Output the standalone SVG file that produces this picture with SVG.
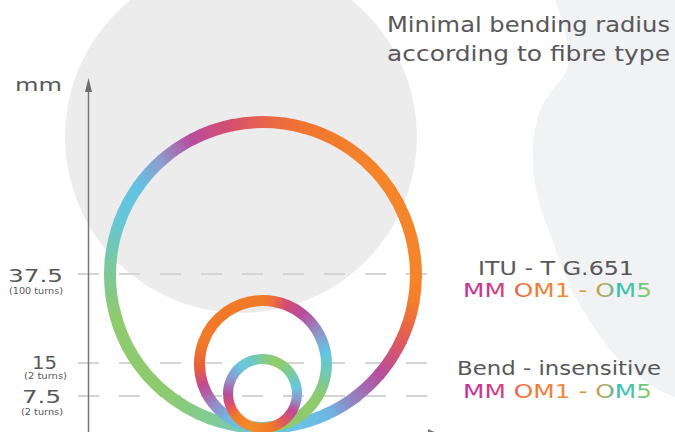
<svg xmlns="http://www.w3.org/2000/svg" width="675" height="432" viewBox="0 0 675 432">
<style>
.t{font-family:"DejaVu Sans","Liberation Sans",sans-serif;fill:#58585a}
.grid{stroke:#d4d4d4;stroke-width:2;stroke-dasharray:21 20;fill:none}
.rb{fill:none;stroke-width:12}
.rm{fill:none;stroke-width:11}
.rs{fill:none;stroke-width:10}
</style>
<defs>
<linearGradient id="tg" gradientUnits="userSpaceOnUse" x1="463" y1="0" x2="652" y2="0">
<stop offset="0" stop-color="#c2309c"/><stop offset="0.2" stop-color="#d0407a"/><stop offset="0.33" stop-color="#f0783a"/><stop offset="0.57" stop-color="#f08a3a"/><stop offset="0.67" stop-color="#d0a040"/><stop offset="0.75" stop-color="#b0a860"/><stop offset="0.83" stop-color="#30c0b4"/><stop offset="0.94" stop-color="#60c690"/><stop offset="1" stop-color="#a8cc3c"/>
</linearGradient>
<linearGradient id="b1" gradientUnits="userSpaceOnUse" x1="263" y1="122" x2="302.6" y2="127.2"><stop offset="0" stop-color="#e8644a"/><stop offset="1" stop-color="#f07430"/></linearGradient>
<linearGradient id="b2" gradientUnits="userSpaceOnUse" x1="302.6" y1="127.2" x2="371.2" y2="166.8"><stop offset="0" stop-color="#f07430"/><stop offset="1" stop-color="#f5842a"/></linearGradient>
<linearGradient id="b4" gradientUnits="userSpaceOnUse" x1="416" y1="275" x2="413.7" y2="301.6"><stop offset="0" stop-color="#f5852a"/><stop offset="1" stop-color="#f47e2a"/></linearGradient>
<linearGradient id="b5" gradientUnits="userSpaceOnUse" x1="413.7" y1="301.6" x2="401.7" y2="339.7"><stop offset="0" stop-color="#f47e2a"/><stop offset="1" stop-color="#e05a5a"/></linearGradient>
<linearGradient id="b6" gradientUnits="userSpaceOnUse" x1="401.7" y1="339.7" x2="380.2" y2="373.3"><stop offset="0" stop-color="#e05a5a"/><stop offset="1" stop-color="#b84d9c"/></linearGradient>
<linearGradient id="b7" gradientUnits="userSpaceOnUse" x1="380.2" y1="373.3" x2="357.2" y2="395.6"><stop offset="0" stop-color="#b84d9c"/><stop offset="1" stop-color="#9a78bc"/></linearGradient>
<linearGradient id="b8" gradientUnits="userSpaceOnUse" x1="357.2" y1="395.6" x2="327.7" y2="413.7"><stop offset="0" stop-color="#9a78bc"/><stop offset="1" stop-color="#6cb8e4"/></linearGradient>
<linearGradient id="b9" gradientUnits="userSpaceOnUse" x1="327.7" y1="413.7" x2="289.6" y2="425.7"><stop offset="0" stop-color="#6cb8e4"/><stop offset="1" stop-color="#6cc4e4"/></linearGradient>
<linearGradient id="b10" gradientUnits="userSpaceOnUse" x1="289.6" y1="425.7" x2="249.7" y2="427.4"><stop offset="0" stop-color="#6cc4e4"/><stop offset="1" stop-color="#70c8c8"/></linearGradient>
<linearGradient id="b11" gradientUnits="userSpaceOnUse" x1="249.7" y1="427.4" x2="210.7" y2="418.8"><stop offset="0" stop-color="#70c8c8"/><stop offset="1" stop-color="#80cc94"/></linearGradient>
<linearGradient id="b12" gradientUnits="userSpaceOnUse" x1="210.7" y1="418.8" x2="164.7" y2="392.2"><stop offset="0" stop-color="#80cc94"/><stop offset="1" stop-color="#8ecb6e"/></linearGradient>
<linearGradient id="b14" gradientUnits="userSpaceOnUse" x1="115.2" y1="314.6" x2="110.6" y2="261.7"><stop offset="0" stop-color="#8ecb70"/><stop offset="1" stop-color="#78c8a4"/></linearGradient>
<linearGradient id="b15" gradientUnits="userSpaceOnUse" x1="110.6" y1="261.7" x2="119.2" y2="222.7"><stop offset="0" stop-color="#78c8a4"/><stop offset="1" stop-color="#66c6d4"/></linearGradient>
<linearGradient id="b16" gradientUnits="userSpaceOnUse" x1="119.2" y1="222.7" x2="137.7" y2="187.2"><stop offset="0" stop-color="#66c6d4"/><stop offset="1" stop-color="#62c4e4"/></linearGradient>
<linearGradient id="b17" gradientUnits="userSpaceOnUse" x1="137.7" y1="187.2" x2="160.6" y2="161.3"><stop offset="0" stop-color="#62c4e4"/><stop offset="1" stop-color="#8c9ccc"/></linearGradient>
<linearGradient id="b18" gradientUnits="userSpaceOnUse" x1="160.6" y1="161.3" x2="191.2" y2="139.9"><stop offset="0" stop-color="#8c9ccc"/><stop offset="1" stop-color="#b84d9c"/></linearGradient>
<linearGradient id="b19" gradientUnits="userSpaceOnUse" x1="191.2" y1="139.9" x2="231.2" y2="125.3"><stop offset="0" stop-color="#b84d9c"/><stop offset="1" stop-color="#d4506e"/></linearGradient>
<linearGradient id="b20" gradientUnits="userSpaceOnUse" x1="231.2" y1="125.3" x2="263" y2="122"><stop offset="0" stop-color="#d4506e"/><stop offset="1" stop-color="#e8644a"/></linearGradient>

<linearGradient id="m1" gradientUnits="userSpaceOnUse" x1="263" y1="300.5" x2="274" y2="301.5"><stop offset="0" stop-color="#f17a2a"/><stop offset="1" stop-color="#ec6a40"/></linearGradient>
<linearGradient id="m2" gradientUnits="userSpaceOnUse" x1="274" y1="301.5" x2="286.8" y2="305.1"><stop offset="0" stop-color="#ec6a40"/><stop offset="1" stop-color="#d04c78"/></linearGradient>
<linearGradient id="m3" gradientUnits="userSpaceOnUse" x1="286.8" y1="305.1" x2="302.1" y2="314"><stop offset="0" stop-color="#d04c78"/><stop offset="1" stop-color="#b84d9c"/></linearGradient>
<linearGradient id="m4" gradientUnits="userSpaceOnUse" x1="302.1" y1="314" x2="319.1" y2="334.2"><stop offset="0" stop-color="#b84d9c"/><stop offset="1" stop-color="#8c98cc"/></linearGradient>
<linearGradient id="m5" gradientUnits="userSpaceOnUse" x1="319.1" y1="334.2" x2="325.5" y2="353"><stop offset="0" stop-color="#8c98cc"/><stop offset="1" stop-color="#62c6e4"/></linearGradient>
<linearGradient id="m6" gradientUnits="userSpaceOnUse" x1="325.5" y1="353" x2="325.9" y2="372.8"><stop offset="0" stop-color="#62c6e4"/><stop offset="1" stop-color="#72c8b0"/></linearGradient>
<linearGradient id="m7" gradientUnits="userSpaceOnUse" x1="325.9" y1="372.8" x2="318" y2="395.75"><stop offset="0" stop-color="#72c8b0"/><stop offset="1" stop-color="#8ecb6e"/></linearGradient>
<linearGradient id="m9" gradientUnits="userSpaceOnUse" x1="284.7" y1="423.7" x2="252" y2="426.5"><stop offset="0" stop-color="#8ecb6e"/><stop offset="1" stop-color="#6cc4dc"/></linearGradient>
<linearGradient id="m10" gradientUnits="userSpaceOnUse" x1="252" y1="426.5" x2="226.6" y2="416"><stop offset="0" stop-color="#6cc4dc"/><stop offset="1" stop-color="#74b4e0"/></linearGradient>
<linearGradient id="m11" gradientUnits="userSpaceOnUse" x1="226.6" y1="416" x2="213" y2="403.1"><stop offset="0" stop-color="#74b4e0"/><stop offset="1" stop-color="#9a84c4"/></linearGradient>
<linearGradient id="m12" gradientUnits="userSpaceOnUse" x1="213" y1="403.1" x2="203.3" y2="385.7"><stop offset="0" stop-color="#9a84c4"/><stop offset="1" stop-color="#c04a90"/></linearGradient>
<linearGradient id="m13" gradientUnits="userSpaceOnUse" x1="203.3" y1="385.7" x2="199.5" y2="366.2"><stop offset="0" stop-color="#c04a90"/><stop offset="1" stop-color="#ec6038"/></linearGradient>
<linearGradient id="m14" gradientUnits="userSpaceOnUse" x1="199.5" y1="366.2" x2="203.3" y2="342.3"><stop offset="0" stop-color="#ec6038"/><stop offset="1" stop-color="#f07a28"/></linearGradient>

<linearGradient id="s1" gradientUnits="userSpaceOnUse" x1="262.5" y1="359" x2="277.1" y2="362.2"><stop offset="0" stop-color="#80cc90"/><stop offset="1" stop-color="#92cc64"/></linearGradient>
<linearGradient id="s2" gradientUnits="userSpaceOnUse" x1="277.1" y1="362.2" x2="290.8" y2="373.7"><stop offset="0" stop-color="#92cc64"/><stop offset="1" stop-color="#7ccaa0"/></linearGradient>
<linearGradient id="s3" gradientUnits="userSpaceOnUse" x1="290.8" y1="373.7" x2="296.5" y2="387.5"><stop offset="0" stop-color="#7ccaa0"/><stop offset="1" stop-color="#66c6e0"/></linearGradient>
<linearGradient id="s4" gradientUnits="userSpaceOnUse" x1="296.5" y1="387.5" x2="296.5" y2="399.5"><stop offset="0" stop-color="#66c6e0"/><stop offset="1" stop-color="#8c98cc"/></linearGradient>
<linearGradient id="s5" gradientUnits="userSpaceOnUse" x1="296.5" y1="399.5" x2="292.4" y2="410.75"><stop offset="0" stop-color="#8c98cc"/><stop offset="1" stop-color="#c04a90"/></linearGradient>
<linearGradient id="s6" gradientUnits="userSpaceOnUse" x1="292.4" y1="410.75" x2="282.3" y2="421.8"><stop offset="0" stop-color="#c04a90"/><stop offset="1" stop-color="#e25a58"/></linearGradient>
<linearGradient id="s7" gradientUnits="userSpaceOnUse" x1="282.3" y1="421.8" x2="271.4" y2="426.8"><stop offset="0" stop-color="#e25a58"/><stop offset="1" stop-color="#f07a2a"/></linearGradient>
<linearGradient id="s8" gradientUnits="userSpaceOnUse" x1="271.4" y1="426.8" x2="250.7" y2="425.9"><stop offset="0" stop-color="#f07a2a"/><stop offset="1" stop-color="#f58a2a"/></linearGradient>
<linearGradient id="s9" gradientUnits="userSpaceOnUse" x1="250.7" y1="425.9" x2="236.1" y2="415.7"><stop offset="0" stop-color="#f58a2a"/><stop offset="1" stop-color="#f07a2a"/></linearGradient>
<linearGradient id="s10" gradientUnits="userSpaceOnUse" x1="236.1" y1="415.7" x2="230.1" y2="405.3"><stop offset="0" stop-color="#f07a2a"/><stop offset="1" stop-color="#e0506a"/></linearGradient>
<linearGradient id="s11" gradientUnits="userSpaceOnUse" x1="230.1" y1="405.3" x2="228" y2="394.7"><stop offset="0" stop-color="#e0506a"/><stop offset="1" stop-color="#b84d9c"/></linearGradient>
<linearGradient id="s12" gradientUnits="userSpaceOnUse" x1="228" y1="394.7" x2="231.2" y2="378.9"><stop offset="0" stop-color="#b84d9c"/><stop offset="1" stop-color="#8c98cc"/></linearGradient>
<linearGradient id="s13" gradientUnits="userSpaceOnUse" x1="231.2" y1="378.9" x2="240.3" y2="367.1"><stop offset="0" stop-color="#8c98cc"/><stop offset="1" stop-color="#66c6e0"/></linearGradient>
<linearGradient id="s14" gradientUnits="userSpaceOnUse" x1="240.3" y1="367.1" x2="253.6" y2="360.2"><stop offset="0" stop-color="#66c6e0"/><stop offset="1" stop-color="#70c8c0"/></linearGradient>
<linearGradient id="s15" gradientUnits="userSpaceOnUse" x1="253.6" y1="360.2" x2="262.5" y2="359"><stop offset="0" stop-color="#70c8c0"/><stop offset="1" stop-color="#80cc90"/></linearGradient>
</defs>

<rect width="675" height="432" fill="#ffffff"/>
<g id="background">
<circle cx="241" cy="137" r="176" fill="#ececec"/>
<path d="M555,0 C560,12 566,32 568,50 C569,60 569,66 566,72 C562,80 552,90 545,100 C535,118 531,145 533,167 C535,190 541,213 550,233 C559,260 569,288 583,310 C596,332 610,352 627,367 C643,381 658,391 675,397 L675,0 Z" fill="#f1f2f4"/>
</g>

<g id="gridlines">
<line class="grid" x1="78" y1="274" x2="428" y2="274"/>
<line class="grid" x1="78" y1="363" x2="428" y2="363"/>
<line class="grid" x1="78" y1="396" x2="428" y2="396"/>
</g>

<g id="ring-large">
<path class="rb" stroke="url(#b1)" stroke-dasharray="42.73 2000" stroke-dashoffset="0" d="M263,122 A153,153 0 1 1 263,428 A153,153 0 1 1 263,122"/>
<path class="rb" stroke="url(#b2)" stroke-dasharray="82.78 2000" stroke-dashoffset="-40.06" d="M263,122 A153,153 0 1 1 263,428 A153,153 0 1 1 263,122"/>
<path class="rb" stroke="#f5852a" stroke-dasharray="122.84 2000" stroke-dashoffset="-120.17" d="M263,122 A153,153 0 1 1 263,428 A153,153 0 1 1 263,122"/>
<path class="rb" stroke="url(#b4)" stroke-dasharray="29.37 2000" stroke-dashoffset="-240.33" d="M263,122 A153,153 0 1 1 263,428 A153,153 0 1 1 263,122"/>
<path class="rb" stroke="url(#b5)" stroke-dasharray="42.73 2000" stroke-dashoffset="-267.04" d="M263,122 A153,153 0 1 1 263,428 A153,153 0 1 1 263,122"/>
<path class="rb" stroke="url(#b6)" stroke-dasharray="42.73 2000" stroke-dashoffset="-307.09" d="M263,122 A153,153 0 1 1 263,428 A153,153 0 1 1 263,122"/>
<path class="rb" stroke="url(#b7)" stroke-dasharray="34.71 2000" stroke-dashoffset="-347.15" d="M263,122 A153,153 0 1 1 263,428 A153,153 0 1 1 263,122"/>
<path class="rb" stroke="url(#b8)" stroke-dasharray="37.38 2000" stroke-dashoffset="-379.19" d="M263,122 A153,153 0 1 1 263,428 A153,153 0 1 1 263,122"/>
<path class="rb" stroke="url(#b9)" stroke-dasharray="42.73 2000" stroke-dashoffset="-413.90" d="M263,122 A153,153 0 1 1 263,428 A153,153 0 1 1 263,122"/>
<path class="rb" stroke="url(#b10)" stroke-dasharray="42.73 2000" stroke-dashoffset="-453.96" d="M263,122 A153,153 0 1 1 263,428 A153,153 0 1 1 263,122"/>
<path class="rb" stroke="url(#b11)" stroke-dasharray="42.73 2000" stroke-dashoffset="-494.01" d="M263,122 A153,153 0 1 1 263,428 A153,153 0 1 1 263,122"/>
<path class="rb" stroke="url(#b12)" stroke-dasharray="56.08 2000" stroke-dashoffset="-534.07" d="M263,122 A153,153 0 1 1 263,428 A153,153 0 1 1 263,122"/>
<path class="rb" stroke="#8ecb6f" stroke-dasharray="96.13 2000" stroke-dashoffset="-587.48" d="M263,122 A153,153 0 1 1 263,428 A153,153 0 1 1 263,122"/>
<path class="rb" stroke="url(#b14)" stroke-dasharray="56.08 2000" stroke-dashoffset="-680.94" d="M263,122 A153,153 0 1 1 263,428 A153,153 0 1 1 263,122"/>
<path class="rb" stroke="url(#b15)" stroke-dasharray="42.73 2000" stroke-dashoffset="-734.35" d="M263,122 A153,153 0 1 1 263,428 A153,153 0 1 1 263,122"/>
<path class="rb" stroke="url(#b16)" stroke-dasharray="42.73 2000" stroke-dashoffset="-774.40" d="M263,122 A153,153 0 1 1 263,428 A153,153 0 1 1 263,122"/>
<path class="rb" stroke="url(#b17)" stroke-dasharray="37.38 2000" stroke-dashoffset="-814.46" d="M263,122 A153,153 0 1 1 263,428 A153,153 0 1 1 263,122"/>
<path class="rb" stroke="url(#b18)" stroke-dasharray="40.06 2000" stroke-dashoffset="-849.17" d="M263,122 A153,153 0 1 1 263,428 A153,153 0 1 1 263,122"/>
<path class="rb" stroke="url(#b19)" stroke-dasharray="45.40 2000" stroke-dashoffset="-886.56" d="M263,122 A153,153 0 1 1 263,428 A153,153 0 1 1 263,122"/>
<path class="rb" stroke="url(#b20)" stroke-dasharray="34.71 2000" stroke-dashoffset="-929.28" d="M263,122 A153,153 0 1 1 263,428 A153,153 0 1 1 263,122"/>
<path class="rb" stroke="#e8644a" d="M260.3,122.02 A153,153 0 0 1 265.7,122.02"/>
</g>

<g id="ring-medium">
<path class="rm" stroke="url(#m1)" stroke-dasharray="12.19 1000" stroke-dashoffset="0" d="M263,300.5 A63.5,63.5 0 1 1 263,427.5 A63.5,63.5 0 1 1 263,300.5"/>
<path class="rm" stroke="url(#m2)" stroke-dasharray="14.41 1000" stroke-dashoffset="-11.08" d="M263,300.5 A63.5,63.5 0 1 1 263,427.5 A63.5,63.5 0 1 1 263,300.5"/>
<path class="rm" stroke="url(#m3)" stroke-dasharray="18.84 1000" stroke-dashoffset="-24.38" d="M263,300.5 A63.5,63.5 0 1 1 263,427.5 A63.5,63.5 0 1 1 263,300.5"/>
<path class="rm" stroke="url(#m4)" stroke-dasharray="27.71 1000" stroke-dashoffset="-42.11" d="M263,300.5 A63.5,63.5 0 1 1 263,427.5 A63.5,63.5 0 1 1 263,300.5"/>
<path class="rm" stroke="url(#m5)" stroke-dasharray="21.06 1000" stroke-dashoffset="-68.71" d="M263,300.5 A63.5,63.5 0 1 1 263,427.5 A63.5,63.5 0 1 1 263,300.5"/>
<path class="rm" stroke="url(#m6)" stroke-dasharray="21.06 1000" stroke-dashoffset="-88.66" d="M263,300.5 A63.5,63.5 0 1 1 263,427.5 A63.5,63.5 0 1 1 263,300.5"/>
<path class="rm" stroke="url(#m7)" stroke-dasharray="25.49 1000" stroke-dashoffset="-108.61" d="M263,300.5 A63.5,63.5 0 1 1 263,427.5 A63.5,63.5 0 1 1 263,300.5"/>
<path class="rm" stroke="#8ecb6e" stroke-dasharray="45.44 1000" stroke-dashoffset="-132.99" d="M263,300.5 A63.5,63.5 0 1 1 263,427.5 A63.5,63.5 0 1 1 263,300.5"/>
<path class="rm" stroke="url(#m9)" stroke-dasharray="34.36 1000" stroke-dashoffset="-177.32" d="M263,300.5 A63.5,63.5 0 1 1 263,427.5 A63.5,63.5 0 1 1 263,300.5"/>
<path class="rm" stroke="url(#m10)" stroke-dasharray="28.82 1000" stroke-dashoffset="-210.57" d="M263,300.5 A63.5,63.5 0 1 1 263,427.5 A63.5,63.5 0 1 1 263,300.5"/>
<path class="rm" stroke="url(#m11)" stroke-dasharray="19.95 1000" stroke-dashoffset="-238.28" d="M263,300.5 A63.5,63.5 0 1 1 263,427.5 A63.5,63.5 0 1 1 263,300.5"/>
<path class="rm" stroke="url(#m12)" stroke-dasharray="21.06 1000" stroke-dashoffset="-257.12" d="M263,300.5 A63.5,63.5 0 1 1 263,427.5 A63.5,63.5 0 1 1 263,300.5"/>
<path class="rm" stroke="url(#m13)" stroke-dasharray="21.06 1000" stroke-dashoffset="-277.07" d="M263,300.5 A63.5,63.5 0 1 1 263,427.5 A63.5,63.5 0 1 1 263,300.5"/>
<path class="rm" stroke="url(#m14)" stroke-dasharray="25.49 1000" stroke-dashoffset="-297.02" d="M263,300.5 A63.5,63.5 0 1 1 263,427.5 A63.5,63.5 0 1 1 263,300.5"/>
<path class="rm" stroke="#f17a29" stroke-dasharray="77.58 1000" stroke-dashoffset="-321.40" d="M263,300.5 A63.5,63.5 0 1 1 263,427.5 A63.5,63.5 0 1 1 263,300.5"/>
<path class="rm" stroke="#f17a2a" d="M261.34,300.52 A63.5,63.5 0 0 1 264.66,300.52"/>
</g>

<g id="ring-small">
<path class="rs" stroke="url(#s1)" stroke-dasharray="15.66 1000" stroke-dashoffset="0" d="M262.5,359 A34.5,34.5 0 1 1 262.5,428 A34.5,34.5 0 1 1 262.5,359"/>
<path class="rs" stroke="url(#s2)" stroke-dasharray="18.67 1000" stroke-dashoffset="-15.05" d="M262.5,359 A34.5,34.5 0 1 1 262.5,428 A34.5,34.5 0 1 1 262.5,359"/>
<path class="rs" stroke="url(#s3)" stroke-dasharray="15.66 1000" stroke-dashoffset="-33.12" d="M262.5,359 A34.5,34.5 0 1 1 262.5,428 A34.5,34.5 0 1 1 262.5,359"/>
<path class="rs" stroke="url(#s4)" stroke-dasharray="12.64 1000" stroke-dashoffset="-48.17" d="M262.5,359 A34.5,34.5 0 1 1 262.5,428 A34.5,34.5 0 1 1 262.5,359"/>
<path class="rs" stroke="url(#s5)" stroke-dasharray="12.64 1000" stroke-dashoffset="-60.21" d="M262.5,359 A34.5,34.5 0 1 1 262.5,428 A34.5,34.5 0 1 1 262.5,359"/>
<path class="rs" stroke="url(#s6)" stroke-dasharray="15.66 1000" stroke-dashoffset="-72.26" d="M262.5,359 A34.5,34.5 0 1 1 262.5,428 A34.5,34.5 0 1 1 262.5,359"/>
<path class="rs" stroke="url(#s7)" stroke-dasharray="12.64 1000" stroke-dashoffset="-87.31" d="M262.5,359 A34.5,34.5 0 1 1 262.5,428 A34.5,34.5 0 1 1 262.5,359"/>
<path class="rs" stroke="url(#s8)" stroke-dasharray="21.68 1000" stroke-dashoffset="-99.35" d="M262.5,359 A34.5,34.5 0 1 1 262.5,428 A34.5,34.5 0 1 1 262.5,359"/>
<path class="rs" stroke="url(#s9)" stroke-dasharray="18.67 1000" stroke-dashoffset="-120.43" d="M262.5,359 A34.5,34.5 0 1 1 262.5,428 A34.5,34.5 0 1 1 262.5,359"/>
<path class="rs" stroke="url(#s10)" stroke-dasharray="12.64 1000" stroke-dashoffset="-138.49" d="M262.5,359 A34.5,34.5 0 1 1 262.5,428 A34.5,34.5 0 1 1 262.5,359"/>
<path class="rs" stroke="url(#s11)" stroke-dasharray="11.44 1000" stroke-dashoffset="-150.53" d="M262.5,359 A34.5,34.5 0 1 1 262.5,428 A34.5,34.5 0 1 1 262.5,359"/>
<path class="rs" stroke="url(#s12)" stroke-dasharray="16.86 1000" stroke-dashoffset="-161.37" d="M262.5,359 A34.5,34.5 0 1 1 262.5,428 A34.5,34.5 0 1 1 262.5,359"/>
<path class="rs" stroke="url(#s13)" stroke-dasharray="15.66 1000" stroke-dashoffset="-177.63" d="M262.5,359 A34.5,34.5 0 1 1 262.5,428 A34.5,34.5 0 1 1 262.5,359"/>
<path class="rs" stroke="url(#s14)" stroke-dasharray="15.66 1000" stroke-dashoffset="-192.68" d="M262.5,359 A34.5,34.5 0 1 1 262.5,428 A34.5,34.5 0 1 1 262.5,359"/>
<path class="rs" stroke="url(#s15)" stroke-dasharray="9.03 1000" stroke-dashoffset="-207.74" d="M262.5,359 A34.5,34.5 0 1 1 262.5,428 A34.5,34.5 0 1 1 262.5,359"/>
<path class="rs" stroke="#80cc90" d="M261.3,359.02 A34.5,34.5 0 0 1 263.7,359.02"/>
</g>

<g id="axis">
<line x1="88.5" y1="90" x2="88.5" y2="432" stroke="#777777" stroke-width="1.5"/>
<polygon points="88.5,78 85,92 92,92" fill="#6d6d6d"/>
<polygon points="428,429 441,435 428,441" fill="#777777"/>
</g>

<g id="axis-labels">
<text class="t" x="15" y="91" font-size="17" textLength="47" lengthAdjust="spacingAndGlyphs">mm</text>
<text class="t" x="35.5" y="282" font-size="18" text-anchor="middle" textLength="55" lengthAdjust="spacingAndGlyphs">37.5</text>
<text class="t" x="36" y="294" font-size="8" text-anchor="middle" textLength="54" lengthAdjust="spacingAndGlyphs">(100 turns)</text>
<text class="t" x="44.5" y="369" font-size="18" text-anchor="middle" textLength="25" lengthAdjust="spacingAndGlyphs">15</text>
<text class="t" x="45.5" y="379" font-size="8" text-anchor="middle" textLength="43" lengthAdjust="spacingAndGlyphs">(2 turns)</text>
<text class="t" x="41.5" y="403" font-size="18" text-anchor="middle" textLength="39" lengthAdjust="spacingAndGlyphs">7.5</text>
<text class="t" x="42" y="415" font-size="8" text-anchor="middle" textLength="42" lengthAdjust="spacingAndGlyphs">(2 turns)</text>
</g>

<g id="title">
<text class="t" x="387" y="32" font-size="22" textLength="283" lengthAdjust="spacingAndGlyphs">Minimal bending radius</text>
<text class="t" x="387" y="61" font-size="22" textLength="283" lengthAdjust="spacingAndGlyphs">according to fibre type</text>
</g>

<g id="label-itu">
<text class="t" x="478" y="275" font-size="19" textLength="156" lengthAdjust="spacingAndGlyphs">ITU - T G.651</text>
<text class="t" x="463" y="297" font-size="19" textLength="189" lengthAdjust="spacingAndGlyphs" style="fill:url(#tg)">MM OM1 - OM5</text>
</g>

<g id="label-bend">
<text class="t" x="457" y="375" font-size="19" textLength="204" lengthAdjust="spacingAndGlyphs">Bend - insensitive</text>
<text class="t" x="463" y="398" font-size="19" textLength="189" lengthAdjust="spacingAndGlyphs" style="fill:url(#tg)">MM OM1 - OM5</text>
</g>
</svg>
